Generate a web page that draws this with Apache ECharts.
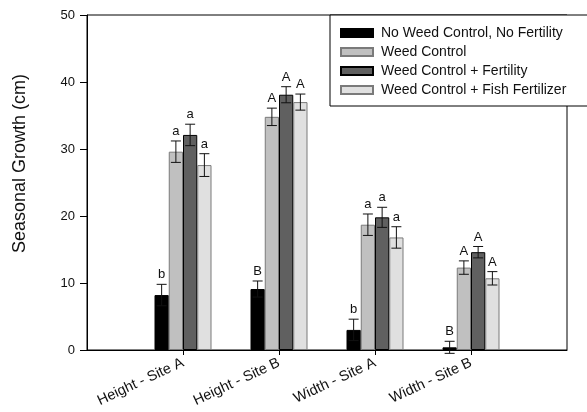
<!DOCTYPE html>
<html>
<head>
<meta charset="utf-8">
<script src="https://cdn.jsdelivr.net/npm/echarts@6/dist/echarts.min.js"></script>
<style>html,body{margin:0;padding:0;background:#fff;}#c{width:587px;height:412px;}</style>
</head>
<body>
<div id="c"></div>
<script>
var categories = ['', 'Height - Site A', 'Height - Site B', 'Width - Site A', 'Width - Site B', ''];
var seriesNames = ['No Weed Control, No Fertility', 'Weed Control', 'Weed Control + Fertility', 'Weed Control + Fish Fertilizer'];
var noWeedNoFert = [null, 8.2, 9.1, 3.0, 0.4, null];
var weedControl = [null, 29.6, 34.8, 18.7, 12.3, null];
var weedFert = [null, 32.1, 38.1, 19.8, 14.6, null];
var weedFish = [null, 27.6, 37.0, 16.8, 10.7, null];
var errNoWeedNoFert = [null, 1.6, 1.2, 1.6, 0.9, null];
var errWeedControl = [null, 1.6, 1.3, 1.6, 1.0, null];
var errWeedFert = [null, 1.6, 1.2, 1.5, 0.85, null];
var errWeedFish = [null, 1.7, 1.2, 1.6, 1.0, null];
var lettersNoWeedNoFert = ['', 'b', 'B', 'b', 'B', ''];
var lettersWeedControl = ['', 'a', 'A', 'a', 'A', ''];
var lettersWeedFert = ['', 'a', 'A', 'a', 'A', ''];
var lettersWeedFish = ['', 'a', 'A', 'a', 'A', ''];
var yTicks = [0, 10, 20, 30, 40, 50];

var means = [noWeedNoFert, weedControl, weedFert, weedFish];
var errs = [errNoWeedNoFert, errWeedControl, errWeedFert, errWeedFish];
var letters = [lettersNoWeedNoFert, lettersWeedControl, lettersWeedFert, lettersWeedFish];
var fills = ['#000000', '#c0c0c0', '#606060', '#e0e0e0'];
var borders = ['#000000', '#7a7a7a', '#000000', '#7a7a7a'];
var BW = 14.25;
var FONT = 'Liberation Sans, Arial, sans-serif';

var series = [];
for (var s = 0; s < 4; s++) {
  series.push({
    name: seriesNames[s], type: 'bar', data: means[s], barWidth: BW, barGap: '0%',
    itemStyle: { color: fills[s], borderColor: borders[s], borderWidth: 1 },
    emphasis: { disabled: true }, z: 2
  });
}
for (var s2 = 0; s2 < 4; s2++) {
  (function (si) {
    var d = [];
    for (var i = 0; i < categories.length; i++) {
      if (means[si][i] != null) d.push([i, means[si][i], errs[si][i]]);
    }
    series.push({
      type: 'custom', name: 'err' + si, data: d, z: 5,
      encode: { x: 0, y: 1 },
      renderItem: function (params, api) {
        var x = api.value(0), m = api.value(1), e = api.value(2);
        var lt = letters[si][x];
        var off = (si - 1.5) * BW;
        var top = api.coord([x, m + e]);
        var bot = api.coord([x, m - e]);
        var cx = top[0] + off;
        var cap = 5;
        return {
          type: 'group',
          children: [
            { type: 'line', shape: { x1: cx, y1: top[1], x2: cx, y2: bot[1] }, style: { stroke: '#111', lineWidth: 1 } },
            { type: 'line', shape: { x1: cx - cap, y1: top[1], x2: cx + cap, y2: top[1] }, style: { stroke: '#111', lineWidth: 1 } },
            { type: 'line', shape: { x1: cx - cap, y1: bot[1], x2: cx + cap, y2: bot[1] }, style: { stroke: '#111', lineWidth: 1 } },
            { type: 'text', style: { text: lt, x: cx, y: top[1] - 3, textAlign: 'center', textVerticalAlign: 'bottom', fill: '#111', font: '13px ' + FONT } }
          ]
        };
      }
    });
  })(s2);
}

var chart = echarts.init(document.getElementById('c'));
chart.setOption({
  animation: false,
  backgroundColor: '#ffffff',
  textStyle: { fontFamily: FONT },
  grid: { left: 87, right: 20, top: 15, bottom: 62, show: true, borderColor: '#000', borderWidth: 1, backgroundColor: 'transparent' },
  legend: {
    data: seriesNames, orient: 'vertical', left: 330, top: 15,
    backgroundColor: '#fff', borderColor: '#000', borderWidth: 1, borderRadius: 0,
    padding: [10, 40, 8, 10], itemWidth: 32, itemHeight: 8, itemGap: 3, icon: 'rect',
    textStyle: { fontSize: 14, color: '#111', lineHeight: 16, padding: [0, 0, 0, 3], fontFamily: FONT },
    selectedMode: false, z: 10
  },
  xAxis: {
    type: 'category', data: categories, boundaryGap: false,
    axisLine: { lineStyle: { color: '#000', width: 1 } },
    axisTick: { length: 5, lineStyle: { color: '#000' }, interval: function (i, v) { return v !== ''; } },
    axisLabel: { interval: 0, rotate: 25, margin: 12, fontSize: 14.5, color: '#111', fontFamily: FONT },
    splitLine: { show: false }
  },
  yAxis: {
    type: 'value', min: yTicks[0], max: yTicks[yTicks.length - 1], interval: 10,
    name: 'Seasonal Growth (cm)', nameLocation: 'middle', nameRotate: 90, nameGap: 58,
    nameTextStyle: { fontSize: 18, color: '#111', fontFamily: FONT, padding: [0, 0, 0, 38] },
    axisLine: { show: true, lineStyle: { color: '#000', width: 1 } },
    axisTick: { show: true, length: 7, lineStyle: { color: '#000' } },
    axisLabel: { margin: 12, fontSize: 13, color: '#111', fontFamily: FONT },
    splitLine: { show: false }
  },
  series: series
});
</script>
</body>
</html>
